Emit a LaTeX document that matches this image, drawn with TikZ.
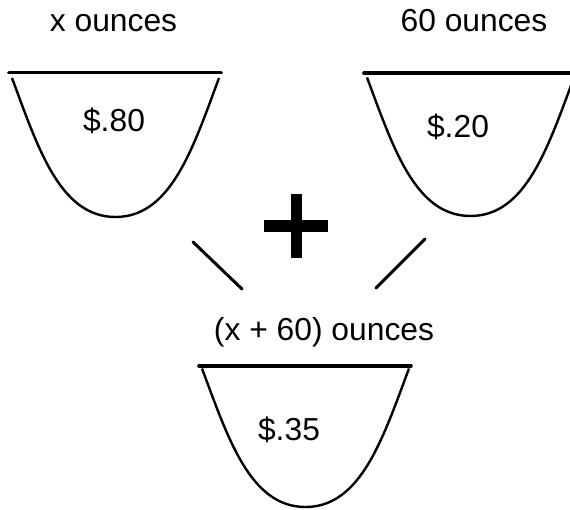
\documentclass[tikz,border=0pt]{standalone}
\usepackage{fontspec}
\setmainfont{Liberation Sans}
\begin{document}
\begin{tikzpicture}[x=1pt,y=-1pt,
  lbl/.style={anchor=base,inner sep=0pt,font=\fontsize{31.8}{38}\selectfont},
  rim/.style={line width=3.6pt,line cap=round},
  bowl/.style={line width=2.4pt},
  link/.style={line width=3pt,line cap=round},
  plusbar/.style={fill=black,draw=none}]
\useasboundingbox (0,0) rectangle (570,510);
\begin{scope}
\clip (0,0) rectangle (570,510);
% labels
\node[lbl] (xl) at (113.5,32) {x ounces};
\node[lbl] (sl) at (474,32) {60 ounces};
\node[lbl] (ml) at (324,341) {(x + 60) ounces};
% bowl 1
\draw[rim] (9,72.7) -- (221,72.7);
\draw[bowl] (12,78) .. controls (38,148) and (60,217) .. (115.5,217)
  .. controls (171,217) and (193,148) .. (219,78);
\node[lbl] (p1) at (114,132) {\$.80};
% bowl 2
\draw[rim] (364,73.3) -- (580,73.3);
\draw[bowl] (367,77.5) .. controls (393,147) and (415,216) .. (470.5,216)
  .. controls (526,216) and (548,147) .. (574,77.5);
\node[lbl] (p2) at (458,138) {\$.20};
% bowl 3
\draw[rim] (199,365.7) -- (411,365.7);
\draw[bowl] (202,368.5) .. controls (228,438) and (250,507) .. (305.5,507)
  .. controls (361,507) and (383,438) .. (409,368.5);
\node[lbl] (p3) at (289,440) {\$.35};
% plus
\fill[plusbar] (264.3,220) rectangle (328.3,231.7);
\fill[plusbar] (291,194.3) rectangle (302.3,257.7);
% connectors
\coordinate (a1) at (193,242);
\coordinate (a2) at (242,289);
\coordinate (b1) at (425,239);
\coordinate (b2) at (376,288);
\draw[link] (a1) -- (a2);
\draw[link] (b1) -- (b2);
\end{scope}
\end{tikzpicture}
\end{document}
